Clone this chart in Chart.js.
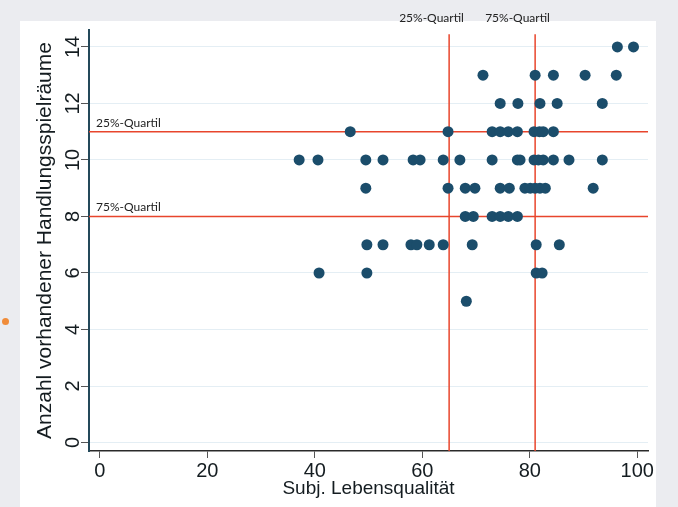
<!DOCTYPE html>
<html>
<head>
<meta charset="utf-8">
<script src="https://cdn.jsdelivr.net/npm/chart.js@4.4.1/dist/chart.umd.min.js"></script>
<style>
html, body { margin: 0; padding: 0; background: #ebecf0; }
#card { position: absolute; left: 20px; top: 21px; width: 636px; height: 486px; background: #fff; }
#dot { position: absolute; left: 2px; top: 318px; width: 7px; height: 7px; border-radius: 50%; background: #f08c3a; }
#wrap { position: absolute; left: 0; top: 0; width: 678px; height: 507px; }
</style>
</head>
<body>
<div id="card"></div>
<div id="dot"></div>
<div id="wrap"><canvas id="chart" width="678" height="507"></canvas></div>
<script>
const lebensqualitaet = [
    96.3, 99.3,
    71.3, 81.0, 84.4, 90.3, 96.1,
    74.5, 77.8, 81.9, 85.1, 93.5,
    46.6, 64.8, 73.0, 74.5, 76.0, 77.7, 80.8, 81.8, 82.5, 84.4,
    37.1, 40.6, 49.5, 52.7, 58.3, 59.6, 63.9, 67.0, 73.0, 77.7, 78.2, 80.8, 81.6, 82.5, 84.4, 87.3, 93.5,
    49.5, 64.8, 68.0, 69.8, 74.5, 76.2, 79.1, 80.1, 81.0, 81.9, 82.9, 91.8,
    68.0, 69.5, 73.0, 74.5, 76.0, 77.7,
    49.7, 52.7, 57.9, 59.0, 61.3, 63.9, 69.3, 81.2, 85.5,
    40.8, 49.7, 81.2, 82.3,
    68.2
];
const handlungsspielraeume = [
    14, 14,
    13, 13, 13, 13, 13,
    12, 12, 12, 12, 12,
    11, 11, 11, 11, 11, 11, 11, 11, 11, 11,
    10, 10, 10, 10, 10, 10, 10, 10, 10, 10, 10, 10, 10, 10, 10, 10, 10,
    9, 9, 9, 9, 9, 9, 9, 9, 9, 9, 9, 9,
    8, 8, 8, 8, 8, 8,
    7, 7, 7, 7, 7, 7, 7, 7, 7,
    6, 6, 6, 6,
    5
];

const xTicks = [0, 20, 40, 60, 80, 100];
const yTicks = [0, 2, 4, 6, 8, 10, 12, 14];

const xQuartile = [65, 81];
const yQuartile = [11, 8];
const quartilLabels = ['25%-Quartil', '75%-Quartil'];

const xMin = -2, xMax = 102;
const yMin = -0.3, yMax = 14.6, yLineTop = 14.45;

const red = '#e8452c';
const dotColor = '#1b4d6b';
const textColor = '#141c20';

const points = lebensqualitaet.map((x, i) => ({ x: x, y: handlungsspielraeume[i] }));

const lineSets = [];
yQuartile.forEach(q => {
    lineSets.push({
        data: [{ x: xMin, y: q }, { x: xMax, y: q }],
        showLine: true, borderColor: red, borderWidth: 1.5, pointRadius: 0
    });
});
xQuartile.forEach(q => {
    lineSets.push({
        data: [{ x: q, y: yMin }, { x: q, y: yLineTop }],
        showLine: true, borderColor: red, borderWidth: 1.5, pointRadius: 0
    });
});

// y tick labels are rotated like in the original
const yTickLabels = {
    id: 'yTickLabels',
    afterDraw(chart) {
        const ys = chart.scales.y;
        const ctx = chart.ctx;
        ctx.save();
        ctx.font = '20px "Liberation Sans", Arial, sans-serif';
        ctx.fillStyle = textColor;
        ctx.textAlign = 'center';
        ctx.textBaseline = 'middle';
        yTicks.forEach(v => {
            ctx.save();
            ctx.translate(ys.right - 16, ys.getPixelForValue(v));
            ctx.rotate(-Math.PI / 2);
            ctx.fillText(String(v), 0, 0);
            ctx.restore();
        });
        ctx.restore();
    }
};

const quartilText = {
    id: 'quartilText',
    afterDraw(chart) {
        const xs = chart.scales.x, ys = chart.scales.y;
        const ctx = chart.ctx;
        ctx.save();
        ctx.font = '12px Lato, "Open Sans", sans-serif';
        ctx.fillStyle = '#222';
        ctx.textAlign = 'left';
        ctx.textBaseline = 'alphabetic';
        xQuartile.forEach((q, i) => {
            ctx.fillText(quartilLabels[i], xs.getPixelForValue(q) - 50, 22);
        });
        yQuartile.forEach((q, i) => {
            ctx.fillText(quartilLabels[i], chart.chartArea.left + 7, ys.getPixelForValue(q) - 5);
        });
        ctx.restore();
    }
};

new Chart(document.getElementById('chart'), {
    type: 'scatter',
    data: {
        datasets: [{
            data: points,
            backgroundColor: dotColor,
            borderColor: dotColor,
            pointRadius: 5.5,
            borderWidth: 0
        }].concat(lineSets)
    },
    options: {
        responsive: false,
        animation: false,
        devicePixelRatio: 1,
        layout: { padding: { left: 30, top: 30, right: 30, bottom: 0 } },
        plugins: { legend: { display: false }, tooltip: { enabled: false } },
        scales: {
            x: {
                type: 'linear',
                min: xMin, max: xMax,
                afterBuildTicks: s => { s.ticks = xTicks.map(v => ({ value: v })); },
                afterFit: s => { s.height = 56; },
                grid: { display: true, drawOnChartArea: false, tickColor: '#555', tickLength: 7 },
                border: { display: true, color: '#2a2a2a', width: 1.5 },
                ticks: {
                    color: textColor, padding: 1, maxRotation: 0,
                    font: { family: '"Liberation Sans", Arial, sans-serif', size: 20 }
                },
                title: {
                    display: true, text: 'Subj. Lebensqualität', color: textColor,
                    padding: { top: 0, bottom: 7 },
                    font: { family: '"Liberation Sans", Arial, sans-serif', size: 19 }
                }
            },
            y: {
                type: 'linear',
                min: yMin, max: yMax,
                afterBuildTicks: s => { s.ticks = yTicks.map(v => ({ value: v })); },
                afterFit: s => { s.width = 59; },
                grid: { color: '#e4eef4', lineWidth: 1, tickColor: '#555', tickLength: 8 },
                border: { display: true, color: '#24495a', width: 2 },
                ticks: { display: false },
                title: {
                    display: true, text: 'Anzahl vorhandener Handlungsspielräume', color: textColor,
                    padding: { top: 3, bottom: 0 },
                    font: { family: '"Liberation Sans", Arial, sans-serif', size: 21 }
                }
            }
        }
    },
    plugins: [yTickLabels, quartilText]
});
</script>
</body>
</html>
